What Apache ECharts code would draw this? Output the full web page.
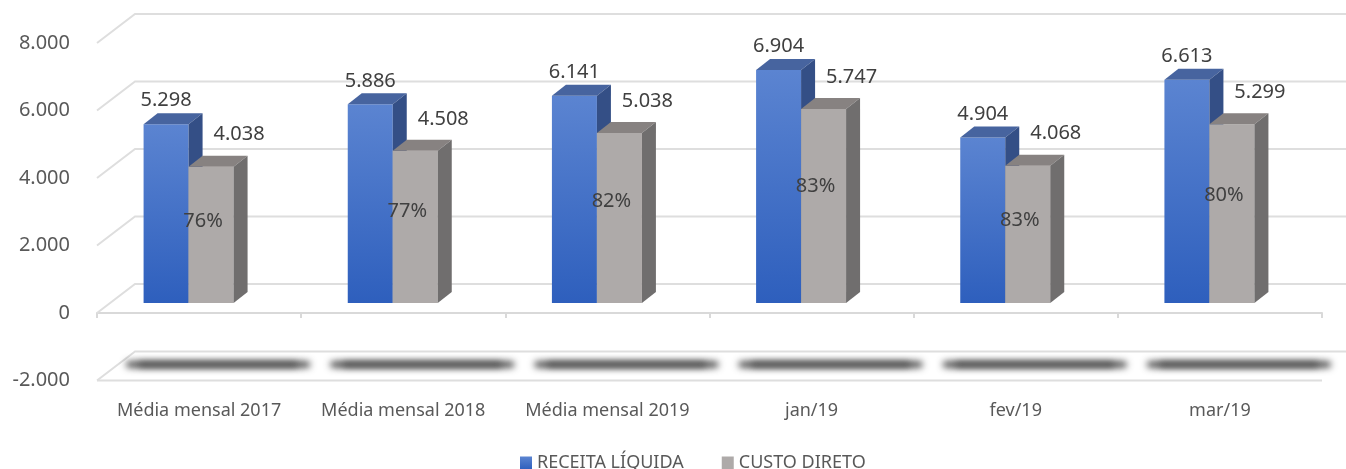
<!DOCTYPE html>
<html>
<head>
<meta charset="utf-8">
<script src="https://cdn.jsdelivr.net/npm/echarts@6/dist/echarts.min.js"></script>
<style>
  html, body { margin: 0; padding: 0; background: #fff; }
  #chart { width: 1346px; height: 469px; }
</style>
</head>
<body>
<div id="chart"></div>
<script>
var categorias = ['Média mensal 2017', 'Média mensal 2018', 'Média mensal 2019', 'jan/19', 'fev/19', 'mar/19'];
var receita = [5298, 5886, 6141, 6904, 4904, 6613];
var custo = [4038, 4508, 5038, 5747, 4068, 5299];
var ticksY = [-2000, 0, 2000, 4000, 6000, 8000];

// 3D look: back wall offset, bar depth, where the bars stand between front and back
var WALL = [38, -29];
var DEPTH = [14, -11];
var MID = [-10.5, -10];
var BW = 45;
var FONT = '"Noto Sans", "DejaVu Sans", sans-serif';

var faces = [
  {
    front: new echarts.graphic.LinearGradient(0, 0, 0, 1, [
      { offset: 0, color: '#5b84d1' }, { offset: 1, color: '#2e5fbd' }
    ]),
    top: '#47649f',
    side: '#344f86'
  },
  { front: '#aeaaa9', top: '#878281', side: '#706e6e' }
];

function fmt(v) {
  return String(v).replace(/\B(?=(\d{3})+(?!\d))/g, '.');
}

function barItem(which) {
  return function (params, api) {
    var i = api.value(0), v = api.value(1);
    var base = api.coord([i, 0]);
    var top = api.coord([i, v]);
    var xl = base[0] + MID[0] - (which === 0 ? BW : 0);
    var xr = xl + BW;
    var yb = base[1] + MID[1], yt = top[1] + MID[1];
    var f = faces[which];
    var kids = [
      { type: 'rect', shape: { x: xl, y: yt, width: BW, height: yb - yt }, style: { fill: f.front } },
      { type: 'polygon', shape: { points: [[xl, yt], [xl + DEPTH[0], yt + DEPTH[1]], [xr + DEPTH[0], yt + DEPTH[1]], [xr, yt]] }, style: { fill: f.top } },
      { type: 'polygon', shape: { points: [[xr, yt], [xr + DEPTH[0], yt + DEPTH[1]], [xr + DEPTH[0], yb + DEPTH[1]], [xr, yb]] }, style: { fill: f.side } }
    ];
    var txt = { font: '20px ' + FONT, fill: '#404040', align: 'center', verticalAlign: 'middle' };
    if (which === 0) {
      kids.push({ type: 'text', style: Object.assign({ text: fmt(v), x: xl + BW / 2, y: yt - 23.5 }, txt) });
    } else {
      kids.push({ type: 'text', style: Object.assign({ text: fmt(v), x: xl + BW / 2 + 28, y: yt - 32 }, txt) });
      kids.push({ type: 'text', style: Object.assign({ text: api.value(2) + '%', x: xl + BW / 2 - 8, y: yb - 0.6 * (yb - yt) }, txt) });
    }
    return { type: 'group', children: kids };
  };
}

var myChart = echarts.init(document.getElementById('chart'));

var option = {
  animation: false,
  legend: {
    data: ['RECEITA LÍQUIDA', 'CUSTO DIRETO'],
    left: 515,
    top: 449,
    icon: 'rect',
    itemWidth: 12,
    itemHeight: 13,
    itemGap: 38,
    textStyle: { fontFamily: FONT, fontSize: 18, color: '#595959' }
  },
  grid: { left: 97, right: 24, top: 43, bottom: 88.5 },
  xAxis: [
    {
      type: 'category',
      data: categorias,
      position: 'bottom',
      axisLine: { onZero: true, lineStyle: { color: '#d9d9d9', width: 2 } },
      axisTick: { show: true, length: 5, lineStyle: { color: '#d9d9d9', width: 2 } },
      axisLabel: { show: false }
    },
    {
      type: 'category',
      data: categorias,
      position: 'bottom',
      axisLine: { show: false, onZero: false },
      axisTick: { show: false },
      axisLabel: { interval: 0, margin: 21, fontFamily: FONT, fontSize: 18, color: '#595959' }
    }
  ],
  yAxis: {
    type: 'value',
    min: -2000,
    max: 8000,
    interval: 2000,
    axisLine: { show: false },
    axisTick: { show: false },
    splitLine: { show: false },
    axisLabel: { margin: 27, fontFamily: FONT, fontSize: 20, color: '#595959', formatter: fmt }
  },
  series: [
    {
      name: 'parede',
      type: 'custom',
      silent: true,
      data: ticksY.map(function (v) { return [0, v]; }),
      renderItem: function (params, api) {
        var cs = params.coordSys;
        var v = api.value(1);
        var y = api.coord([0, v])[1];
        var x0 = cs.x, x1 = cs.x + cs.width;
        var ls = { stroke: '#dedede', lineWidth: 2, fill: null };
        var kids = [{
          type: 'polyline',
          shape: { points: [[x0, y], [x0 + WALL[0], y + WALL[1]], [x1 + WALL[0], y + WALL[1]]] },
          style: ls
        }];
        if (v === ticksY[0]) {
          kids.push({ type: 'line', shape: { x1: x0, y1: y, x2: x1, y2: y }, style: ls });
        }
        return { type: 'group', children: kids };
      }
    },
    {
      // blurred strips on the -2.000 floor: only the shadow of an off-screen rect is seen
      name: 'sombra',
      type: 'custom',
      silent: true,
      data: categorias.map(function (c, i) { return [i, ticksY[0]]; }),
      renderItem: function (params, api) {
        var p = api.coord([api.value(0), api.value(1)]);
        var s = { fill: '#333', shadowBlur: 7, shadowColor: 'rgba(60,60,60,1)', shadowOffsetX: 3000 };
        return {
          type: 'group',
          children: [
            { type: 'rect', shape: { x: p[0] + 19 - 92 - 3000, y: p[1] - 19, width: 184, height: 6, r: 3 }, style: s },
            { type: 'rect', shape: { x: p[0] + 19 - 80 - 3000, y: p[1] - 18, width: 160, height: 4, r: 2 }, style: s }
          ]
        };
      }
    },
    {
      name: 'RECEITA LÍQUIDA',
      type: 'custom',
      itemStyle: { color: faces[0].front },
      data: receita.map(function (v, i) { return [i, v]; }),
      renderItem: barItem(0)
    },
    {
      name: 'CUSTO DIRETO',
      type: 'custom',
      itemStyle: { color: faces[1].front },
      data: custo.map(function (v, i) { return [i, v, Math.round(v / receita[i] * 100)]; }),
      renderItem: barItem(1)
    }
  ]
};

myChart.setOption(option);
</script>
</body>
</html>
